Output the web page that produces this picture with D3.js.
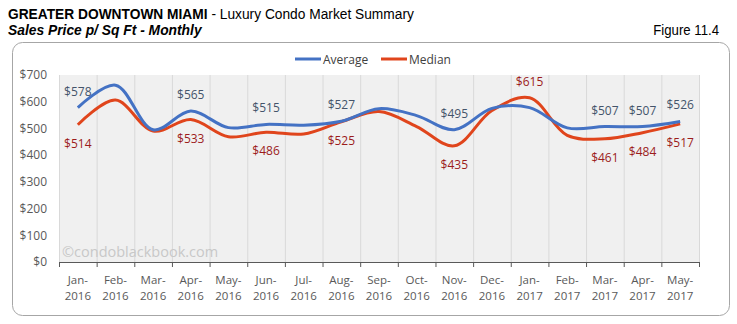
<!DOCTYPE html>
<html><head><meta charset="utf-8">
<script src="https://cdn.jsdelivr.net/npm/d3@7"></script>
<style>body{margin:0;background:#fff;} svg{display:block;}</style>
</head><body>
<svg id="c" width="737" height="324"></svg>
<script>
const categories = ["Jan-2016","Feb-2016","Mar-2016","Apr-2016","May-2016","Jun-2016","Jul-2016","Aug-2016","Sep-2016","Oct-2016","Nov-2016","Dec-2016","Jan-2017","Feb-2017","Mar-2017","Apr-2017","May-2017"];
const average = [578,662,495,565,503,515,512,527,574,548,495,575,578,502,507,507,526];
const median  = [514,606,490,533,469,486,479,525,563,507,435,567,615,474,461,484,517];
const avgLabelIdx = [0,3,5,7,10,14,15,16];
const medLabelIdx = [0,3,5,7,10,12,14,15,16];
const medAboveIdx = [12];
const yTicks = [0,100,200,300,400,500,600,700];

const svg = d3.select("#c");
const font = "'Open Sans', sans-serif";
const narrow = "'Liberation Sans Narrow','Arial Narrow','Liberation Sans',sans-serif";

function squeeze(sel, x0, targetW){
  const w = sel.node().getBBox().width;
  if (w > targetW) sel.attr("transform",`translate(${x0},0) scale(${targetW/w},1) translate(${-x0},0)`);
}

const t1 = svg.append("text").attr("x",8).attr("y",19).attr("font-family",narrow).attr("font-size",15).attr("font-weight","bold").attr("fill","#000")
  .text("GREATER DOWNTOWN MIAMI");
t1.append("tspan").attr("font-weight","normal").text(" - Luxury Condo Market Summary");
squeeze(t1, 8, 407);
const t2 = svg.append("text").attr("x",8).attr("y",35).attr("font-family",narrow).attr("font-size",14).attr("font-style","italic").attr("font-weight","bold")
  .text("Sales Price  p/ Sq Ft - Monthly");
squeeze(t2, 8, 195);
const t3 = svg.append("text").attr("x",719).attr("y",35).attr("text-anchor","end").attr("font-family",narrow).attr("font-size",14).text("Figure 11.4");
squeeze(t3, 719, 66);

svg.append("rect").attr("x",12.5).attr("y",42.5).attr("width",717).attr("height",273).attr("rx",10).attr("fill","#fff").attr("stroke","#a6a6a6").attr("stroke-width",1);

const x = d3.scaleBand().domain(categories).range([59,699]).padding(0);
const y = d3.scaleLinear().domain([0,700]).range([262,75]);

svg.append("rect").attr("x",59).attr("y",y(700)).attr("width",640).attr("height",y(0)-y(700)).attr("fill","#f0f0f0");
const bounds = categories.map(c=>x(c)).concat([x.range()[1]]);
svg.append("g").selectAll("line").data(bounds).join("line")
  .attr("x1",d=>d+0.5).attr("x2",d=>d+0.5).attr("y1",y(700)).attr("y2",y(0)).attr("stroke","#d9d9d9");

svg.append("text").attr("x",62).attr("y",257).attr("font-family",font).attr("font-size",14.5).attr("fill","#c8c8c8").text("©condoblackbook.com");

// y axis labels
const yAxis = d3.axisLeft(y).tickValues(yTicks).tickFormat(d=>"$"+d).tickSize(0).tickPadding(12);
const ga = svg.append("g").attr("transform","translate(59,0)").call(yAxis);
ga.select(".domain").remove();
ga.selectAll("text").attr("font-family",font).attr("font-size",12).attr("fill","#595959");

// x axis
const xAxis = d3.axisBottom(x).tickSize(0).tickFormat("");
const gx = svg.append("g").attr("transform",`translate(0,${y(0)})`).call(xAxis);
gx.select(".domain").attr("stroke","#595959").attr("d","M59,0.5H699");
svg.append("g").selectAll("line").data(bounds).join("line")
  .attr("x1",d=>d+0.5).attr("x2",d=>d+0.5).attr("y1",y(0)).attr("y2",y(0)+5).attr("stroke","#595959");
const xl = svg.append("g").selectAll("text").data(categories).join("text")
  .attr("x",d=>x(d)+x.bandwidth()/2).attr("y",284).attr("text-anchor","middle")
  .attr("font-family",font).attr("font-size",11.5).attr("fill","#595959");
xl.append("tspan").attr("x",d=>x(d)+x.bandwidth()/2).attr("dy",0).text(d=>d.split("-")[0]+"-");
xl.append("tspan").attr("x",d=>x(d)+x.bandwidth()/2).attr("dy",16).text(d=>d.split("-")[1]);

const line = d3.line().x((d,i)=>x(categories[i])+x.bandwidth()/2).y(d=>y(d)).curve(d3.curveCatmullRom.alpha(0.5));
svg.append("path").datum(median).attr("d",line).attr("fill","none").attr("stroke","#e0451c").attr("stroke-width",3);
svg.append("path").datum(average).attr("d",line).attr("fill","none").attr("stroke","#4472c4").attr("stroke-width",3);

svg.append("g").selectAll("text").data(avgLabelIdx).join("text")
  .attr("x",i=>x(categories[i])+x.bandwidth()/2).attr("y",i=>y(average[i])-12).attr("text-anchor","middle")
  .attr("font-family",font).attr("font-size",12).attr("fill","#44546a").text(i=>"$"+average[i]);
svg.append("g").selectAll("text").data(medLabelIdx).join("text")
  .attr("x",i=>x(categories[i])+x.bandwidth()/2)
  .attr("y",i=>medAboveIdx.includes(i)? y(median[i])-12 : y(median[i])+23).attr("text-anchor","middle")
  .attr("font-family",font).attr("font-size",12).attr("fill","#9c1c1c").text(i=>"$"+median[i]);

// legend
const leg = [{n:"Average",c:"#4472c4",x:295},{n:"Median",c:"#e0451c",x:381}];
const lg = svg.append("g");
leg.forEach(l=>{
  lg.append("line").attr("x1",l.x).attr("x2",l.x+26).attr("y1",59).attr("y2",59).attr("stroke",l.c).attr("stroke-width",3);
  lg.append("text").attr("x",l.x+28).attr("y",63.5).attr("font-family",font).attr("font-size",12).attr("fill","#404040").text(l.n);
});
</script>
</body></html>
